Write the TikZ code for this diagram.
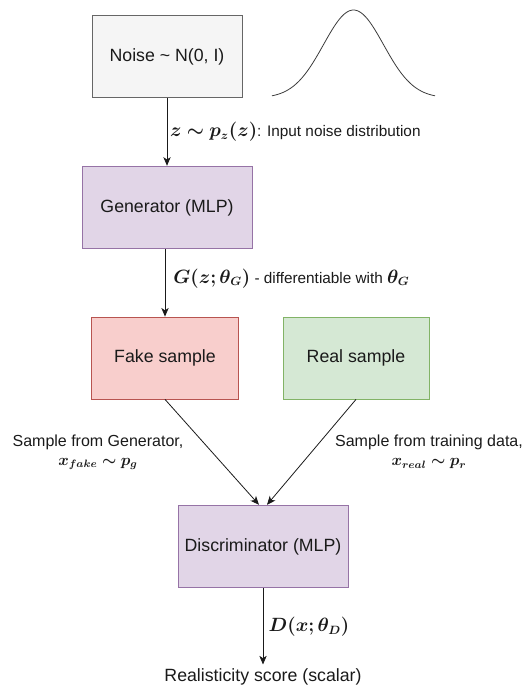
\documentclass[tikz,border=0pt]{standalone}
\usepackage{amsmath,bm}
\usepackage{fontspec}
\setmainfont{Liberation Sans}
\usepackage{xcolor}
\usetikzlibrary{arrows.meta,positioning}
\definecolor{noisef}{HTML}{F5F5F5}
\definecolor{noised}{HTML}{666666}
\definecolor{mlpf}{HTML}{E1D5E7}
\definecolor{mlpd}{HTML}{9673A6}
\definecolor{fakef}{HTML}{F8CECC}
\definecolor{faked}{HTML}{B85450}
\definecolor{realf}{HTML}{D5E8D4}
\definecolor{reald}{HTML}{82B366}
\definecolor{inkc}{HTML}{1A1A1A}
\newcommand{\smalltxt}{\fontsize{11.5}{14}\selectfont}
\tikzset{
  ar/.style={-{Stealth[length=6.5pt,width=5.5pt,inset=1.8pt]},line width=0.6pt,inkc},
  box/.style={draw,line width=0.6pt,align=center,minimum height=62pt,inner sep=2pt,text=inkc},
  lbl/.style={inner sep=0pt,text=inkc},
  note/.style={lbl,align=center,font=\fontsize{12}{14.3}\selectfont}
}
\begin{document}
\begin{tikzpicture}[x=0.75pt,y=-0.75pt,font=\fontsize{13.3}{14.5}\selectfont]
\useasboundingbox (0,0) rectangle (530,688);
% boxes
\node[box,fill=noisef,draw=noised,minimum width=112.5pt] (noise) at (167,56.5) {Noise \textasciitilde{} N(0, I)};
\node[box,fill=mlpf,draw=mlpd,minimum width=127.5pt] (gen) at (167,207.5) {Generator (MLP)};
\node[box,fill=fakef,draw=faked,minimum width=110.25pt,minimum height=61.5pt] (fake) at (165,358) {Fake sample};
\node[box,fill=realf,draw=reald,minimum width=109.5pt,minimum height=61.5pt] (real) at (356,358) {Real sample};
\node[box,fill=mlpf,draw=mlpd,minimum width=127.5pt] (disc) at (263,546.5) {Discriminator (MLP)};
\node[lbl,inner sep=3pt] (score) at (263,677) {Realisticity score (scalar)};
% bell curve
\draw[line width=0.6pt,inkc!85,domain=272:435,samples=60,smooth]
  plot ({\x},{98-88*exp(-((\x-353.5)/30)*((\x-353.5)/30)/2)});
% connectors
\draw[ar] (noise) -- (gen) node[lbl,midway,right=2pt] {$\bm{z\sim p_z(z)}${\smalltxt: Input noise distribution}};
\draw[ar] (gen.south -| fake.north) -- (fake.north) node[lbl,pos=0.43,right=6pt] {$\bm{G(z;\theta_G)}${\smalltxt{} - differentiable with }$\bm{\theta_G}$};
\draw[ar] (fake.south) -- ([xshift=-3pt]disc.north);
\draw[ar] (real.south) -- ([xshift=3pt]disc.north);
\draw[ar] (disc) -- (score) node[lbl,midway,right=4pt] {$\bm{D(x;\theta_D)}$};
% edge notes
\node[note] (fakenote) at (98,452) {Sample from Generator,\\$\bm{x_{fake}\sim p_g}$};
\node[note] (realnote) at (429,452) {Sample from training data,\\$\bm{x_{real}\sim p_r}$};
\end{tikzpicture}
\end{document}
